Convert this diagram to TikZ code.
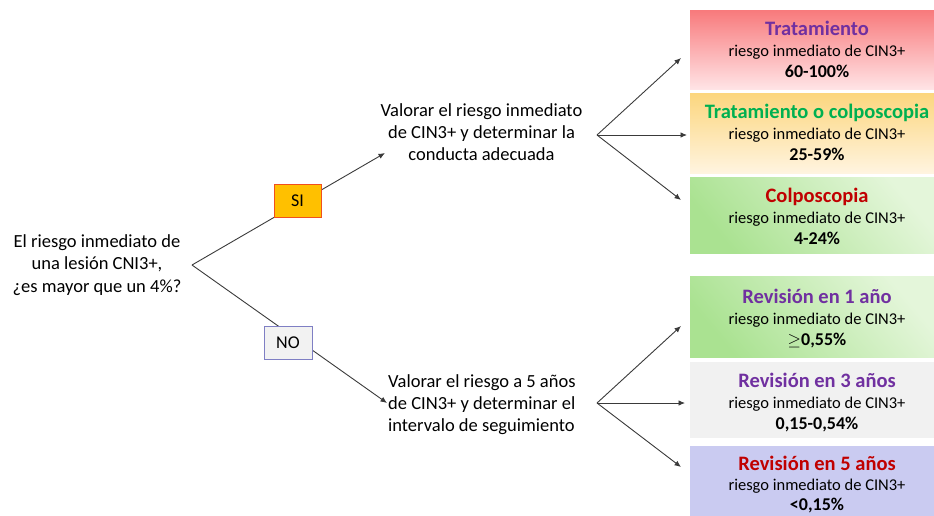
\documentclass[tikz,border=0pt]{standalone}
\usepackage{fontspec}
\setmainfont{Carlito}
\usetikzlibrary{arrows.meta,calc}
\definecolor{tpurple}{HTML}{7030A0}
\definecolor{tgreen}{HTML}{00B050}
\definecolor{tred}{HTML}{C00000}
\definecolor{linec}{HTML}{3A3A3A}
\definecolor{siFill}{HTML}{FFC000}
\definecolor{siDraw}{HTML}{F0501E}
\definecolor{noFill}{HTML}{F2F2F2}
\definecolor{noDraw}{HTML}{7F7FC4}
\definecolor{r1top}{RGB}{248,122,124}
\definecolor{r1bot}{RGB}{255,228,230}
\definecolor{r2top}{RGB}{252,214,126}
\definecolor{r2bot}{RGB}{255,244,224}
\definecolor{g3a}{RGB}{170,226,145}
\definecolor{g3b}{RGB}{228,246,218}
\definecolor{gray5}{RGB}{241,241,241}
\definecolor{lav6}{RGB}{202,203,241}
\begin{document}
\begin{tikzpicture}[x=1pt,y=-1pt,
  rbox/.style={rectangle,draw=none,inner sep=0pt,minimum width=244pt,anchor=north west},
  greenbox/.style={rbox,top color=g3b,bottom color=g3a,shading angle=-50},
  ttl/.style={anchor=base,inner sep=0pt,font=\fontsize{20.5}{24}\selectfont\bfseries},
  bodytxt/.style={anchor=base,inner sep=0pt,font=\fontsize{16.5}{19}\selectfont},
  valtxt/.style={anchor=base,inner sep=0pt,font=\fontsize{18}{21}\selectfont\bfseries},
  qtxt/.style={inner sep=0pt,align=center,font=\fontsize{18.5}{22.5}\selectfont},
  mtxt/.style={inner sep=0pt,font=\fontsize{18.5}{22}\selectfont},
  answer/.style={rectangle,inner sep=0pt,minimum width=47pt,minimum height=33pt,line width=1pt,font=\fontsize{18}{21}\selectfont},
  arr/.style={draw=linec,line width=0.9pt,-{Latex[length=6.5pt,width=5.5pt]}}
]
\useasboundingbox (0,0) rectangle (934,515);

% right boxes
\node[rbox,minimum height=79pt,top color=r1top,bottom color=r1bot] (b1) at (690,10) {};
\node[rbox,minimum height=80pt,top color=r2top,bottom color=r2bot] (b2) at (690,93) {};
\node[greenbox,minimum height=76pt] (b3) at (690,177) {};
\node[greenbox,minimum height=81pt] (b4) at (690,276) {};
\node[rbox,minimum height=76pt,fill=gray5] (b5) at (690,362) {};
\node[rbox,minimum height=72pt,fill=lav6] (b6) at (690,446) {};

% texts in boxes
\node[ttl,text=tpurple] (b1t) at (817,35) {Tratamiento};
\node[bodytxt] (b1b) at (817,56) {riesgo inmediato de CIN3+};
\node[valtxt] (b1v) at (817,77) {60-100\%};

\node[ttl,text=tgreen] (b2t) at (817,118) {Tratamiento o colposcopia};
\node[bodytxt] (b2b) at (817,139) {riesgo inmediato de CIN3+};
\node[valtxt] (b2v) at (817,160) {25-59\%};

\node[ttl,text=tred] (b3t) at (817,202) {Colposcopia};
\node[bodytxt] (b3b) at (817,223) {riesgo inmediato de CIN3+};
\node[valtxt] (b3v) at (817,244) {4-24\%};

\node[ttl,text=tpurple] (b4t) at (817,303) {Revisión en 1 año};
\node[bodytxt] (b4b) at (817,324) {riesgo inmediato de CIN3+};
\node[valtxt] (b4v) at (817,345) {{\mdseries$\geq$}0,55\%};

\node[ttl,text=tpurple] (b5t) at (817,387) {Revisión en 3 años};
\node[bodytxt] (b5b) at (817,408) {riesgo inmediato de CIN3+};
\node[valtxt] (b5v) at (817,429) {0,15-0,54\%};

\node[ttl,text=tred] (b6t) at (817,470) {Revisión en 5 años};
\node[bodytxt] (b6b) at (817,490.5) {riesgo inmediato de CIN3+};
\node[valtxt] (b6v) at (817,510.5) {<0,15\%};

% question and middle texts
\node[qtxt] (q) at (97,265) {El riesgo inmediato de\\una lesión CNI3+,\\¿es mayor que un 4\%?};
\node[mtxt,align=center] (m1) at (481.5,132.6) {Valorar el riesgo inmediato\\de CIN3+ y determinar la\\conducta adecuada};
\node[mtxt,align=left,anchor=west] (m2) at (388,404.5) {Valorar el riesgo a 5 años\\de CIN3+ y determinar el\\intervalo de seguimiento};

% coordinates
\coordinate (apex) at (192,265);
\coordinate (m1in) at (385,153);
\coordinate (m2in) at (387,403);
\coordinate (f1) at (597,135);
\coordinate (f2) at (597,403);
\coordinate (to1) at (681,58);
\coordinate (to2) at (687,135);
\coordinate (to3) at (681,200);
\coordinate (to4) at (681,326);
\coordinate (to5) at (685,403);
\coordinate (to6) at (681,467);

% connectors
\draw[arr] (apex) -- (m1in);
\draw[arr] (apex) -- (m2in);
\draw[arr] (f1) -- (to1);
\draw[arr] (f1) -- (to2);
\draw[arr] (f1) -- (to3);
\draw[arr] (f2) -- (to4);
\draw[arr] (f2) -- (to5);
\draw[arr] (f2) -- (to6);

% answer boxes on top of the lines
\node[answer,fill=siFill,draw=siDraw] (si) at (297.5,200.5) {SI};
\node[answer,fill=noFill,draw=noDraw,minimum width=48pt] (no) at (288,342.5) {NO};
\end{tikzpicture}
\end{document}
